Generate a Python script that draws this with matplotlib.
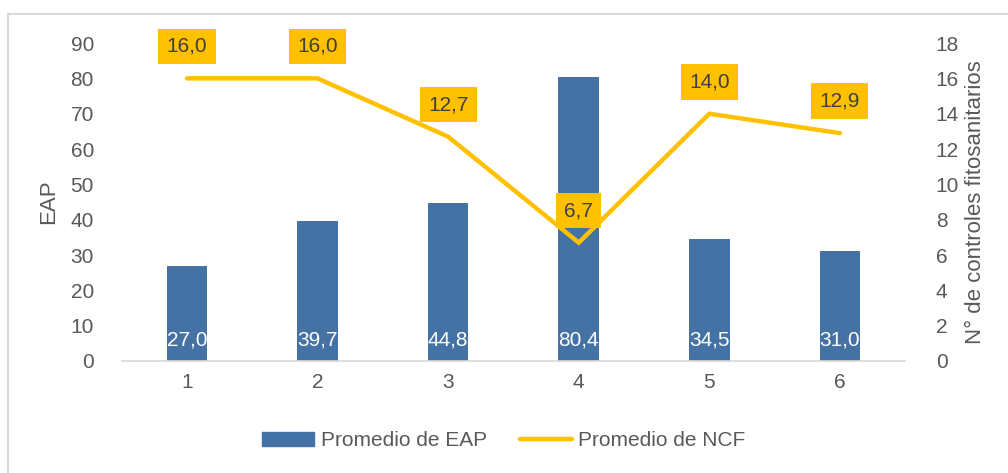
import matplotlib
matplotlib.use("Agg")
import matplotlib.pyplot as plt
from matplotlib.lines import Line2D

categories = ["1", "2", "3", "4", "5", "6"]
eap_values = [27.0, 39.7, 44.8, 80.4, 34.5, 31.0]
ncf_values = [16.0, 16.0, 12.7, 6.7, 14.0, 12.9]

BAR_COLOR = "#4472A4"
LINE_COLOR = "#FFC000"
TEXT_COLOR = "#595959"
FS = 15

plt.rcParams["font.family"] = ["Liberation Sans", "DejaVu Sans"]

fig = plt.figure(figsize=(10.08, 4.73), dpi=100)
ax = fig.add_axes([0.1207, 0.2368, 0.7773, 0.6722])
ax2 = ax.twinx()

x = list(range(1, len(categories) + 1))
ax.bar(x, eap_values, width=0.31, color=BAR_COLOR, zorder=2)
ax2.plot(x, ncf_values, color=LINE_COLOR, linewidth=3.2, solid_capstyle="round",
         solid_joinstyle="miter", zorder=3)

ax.set_xlim(0.5, 6.5)
ax.set_ylim(0, 90)
ax2.set_ylim(0, 18)
ax.set_yticks(range(0, 91, 10))
ax2.set_yticks(range(0, 19, 2))
ax.set_xticks(x)
ax.set_xticklabels(categories)

for a in (ax, ax2):
    for s in a.spines.values():
        s.set_visible(False)
    a.tick_params(length=0, labelsize=FS, colors=TEXT_COLOR)
ax.spines["bottom"].set_visible(True)
ax.spines["bottom"].set_color("#D9D9D9")
ax.spines["bottom"].set_linewidth(1.2)
ax.tick_params(axis="x", pad=9)
ax.tick_params(axis="y", pad=20)
ax2.tick_params(axis="y", pad=22)

ax.set_ylabel("EAP", fontsize=16, color=TEXT_COLOR, labelpad=8)
ax2.set_ylabel("N° de controles fitosanitarios", fontsize=16, color=TEXT_COLOR, labelpad=4)

for xi, v in zip(x, eap_values):
    ax.text(xi, 6, f"{v:.1f}".replace(".", ","), ha="center", va="center",
            fontsize=FS, color="white", zorder=4)

for xi, v in zip(x, ncf_values):
    ax2.annotate(f"{v:.1f}".replace(".", ","), (xi, v), xytext=(0, 32),
                 textcoords="offset pixels",
                 ha="center", va="center", fontsize=FS, color="#404040", zorder=5,
                 bbox=dict(boxstyle="square,pad=0.4", fc=LINE_COLOR, ec="none"))

handles = [plt.Rectangle((0, 0), 1, 1, color=BAR_COLOR),
           Line2D([0], [0], color=LINE_COLOR, linewidth=3.2, solid_capstyle="round")]
fig.legend(handles, ["Promedio de EAP", "Promedio de NCF"], loc="center",
           bbox_to_anchor=(0.5, 0.068), ncol=2, frameon=False, fontsize=FS,
           labelcolor=TEXT_COLOR, handlelength=2.5, handletextpad=0.3, columnspacing=1.6)

# outer chart border (only left/top visible in the crop)
fig.add_artist(Line2D([8 / 1008, 8 / 1008], [0, 1 - 14 / 473], color="#D9D9D9", linewidth=1.5))
fig.add_artist(Line2D([8 / 1008, 1], [1 - 14 / 473, 1 - 14 / 473], color="#D9D9D9", linewidth=1.5))

fig.savefig("out.png", dpi=100)
